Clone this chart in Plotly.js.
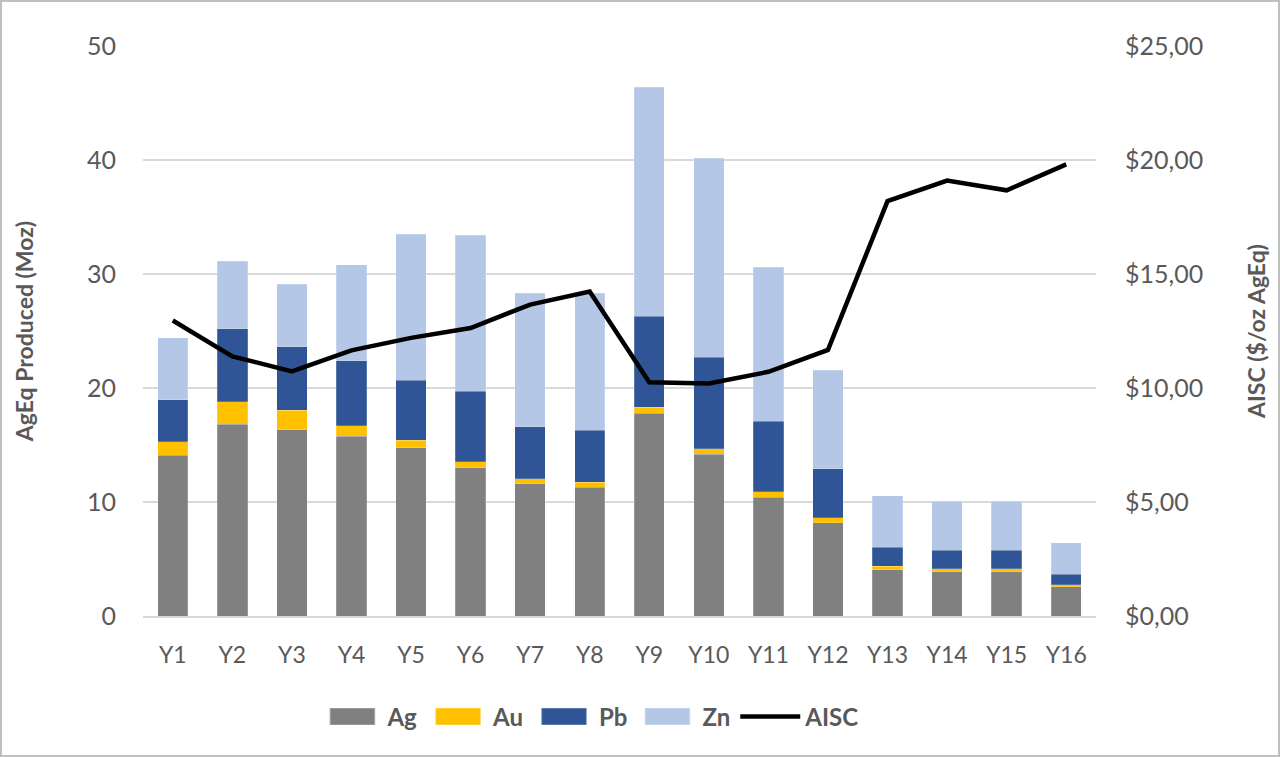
<!DOCTYPE html>
<html>
<head>
<meta charset="utf-8">
<script src="https://cdn.plot.ly/plotly-3.0.1.min.js"></script>
<style>
  html, body { margin: 0; padding: 0; background: #fff; }
  #wrap { position: relative; width: 1280px; height: 757px; }
  #chart { width: 1280px; height: 757px; }
  #frame { position: absolute; left: 0; top: 0; width: 1276px; height: 753px;
           border: 2px solid #bfbfbf; pointer-events: none; }
</style>
</head>
<body>
<div id="wrap">
  <div id="chart"></div>
  <div id="frame"></div>
</div>
<script>
// Years of the mine plan
const years = ["Y1", "Y2", "Y3", "Y4", "Y5", "Y6", "Y7", "Y8",
               "Y9", "Y10", "Y11", "Y12", "Y13", "Y14", "Y15", "Y16"];

// AgEq produced per metal (Moz)
const ag = [14.1, 16.8, 16.35, 15.75, 14.75, 13.0, 11.6, 11.3,
            17.8, 14.2, 10.4, 8.2, 4.06, 3.9, 3.9, 2.57];
const au = [1.2, 2.0, 1.7, 0.95, 0.65, 0.55, 0.45, 0.45,
            0.5, 0.47, 0.5, 0.4, 0.29, 0.26, 0.26, 0.16];
const pb = [3.65, 6.4, 5.55, 5.7, 5.3, 6.15, 4.55, 4.55,
            8.0, 8.03, 6.2, 4.3, 1.68, 1.59, 1.59, 0.92];
const zn = [5.45, 5.9, 5.5, 8.4, 12.8, 13.7, 11.7, 12.0,
            20.1, 17.45, 13.5, 8.66, 4.54, 4.31, 4.31, 2.79];

// All-in sustaining cost ($/oz AgEq)
const aisc = [12.96, 11.39, 10.73, 11.65, 12.2, 12.63, 13.66, 14.23,
              10.25, 10.2, 10.71, 11.67, 18.2, 19.1, 18.67, 19.81];

const textGray = "#595959";
const font = "Lato, 'Open Sans', sans-serif";

function barTrace(name, values, color) {
  return {
    x: years,
    y: values,
    type: "bar",
    name: name,
    marker: { color: color, line: { color: "rgba(255,255,255,0.4)", width: 0.5 } },
  };
}

const traces = [
  barTrace("Ag", ag, "#808080"),
  barTrace("Au", au, "#FFC000"),
  barTrace("Pb", pb, "#2F5597"),
  barTrace("Zn", zn, "#B4C7E7"),
  {
    x: years,
    y: aisc,
    type: "scatter",
    mode: "lines",
    name: "AISC",
    yaxis: "y2",
    line: { color: "#000000", width: 4.5 },
  },
];

const layout = {
  width: 1280,
  height: 757,
  barmode: "stack",
  bargap: 0.49,
  separators: ",.",
  font: { family: font, size: 24, color: textGray },
  margin: { l: 143, r: 184, t: 46, b: 141 },
  xaxis: {
    showgrid: false,
    showline: true,
    linecolor: "#d9d9d9",
    linewidth: 1.5,
    ticks: "",
    tickfont: { size: 23, color: textGray },
    ticklabelstandoff: 18,
  },
  yaxis: {
    range: [0, 50],
    dtick: 10,
    showgrid: true,
    gridcolor: "#d9d9d9",
    gridwidth: 1.5,
    zeroline: false,
    ticks: "",
    ticklabelstandoff: 26,
    tickfont: { size: 25, color: textGray },
    title: {
      text: "<b>AgEq Produced (Moz)</b>",
      font: { size: 23, color: textGray },
      standoff: 46,
    },
  },
  yaxis2: {
    overlaying: "y",
    side: "right",
    range: [0, 25],
    dtick: 5,
    tickprefix: "$",
    tickformat: ".2f",
    showgrid: false,
    zeroline: false,
    ticks: "",
    ticklabelstandoff: 28,
    tickfont: { size: 25, color: textGray },
    title: {
      text: "<b>AISC ($/oz AgEq)</b>",
      font: { size: 23, color: textGray },
      standoff: 46,
    },
  },
  showlegend: true,
  legend: {
    orientation: "h",
    x: 0.47,
    xanchor: "center",
    y: -0.177,
    yanchor: "middle",
    font: { size: 24, color: textGray, weight: "bold" },
    traceorder: "normal",
    itemwidth: 60,
  },
  plot_bgcolor: "#ffffff",
  paper_bgcolor: "#ffffff",
};

Plotly.newPlot("chart", traces, layout, { displayModeBar: false, staticPlot: true }).then((gd) => {
  // stretch the bar swatches into wide rectangles like the original legend
  gd.querySelectorAll(".legend .traces").forEach((item, i) => {
    if (i > 3) return;
    item.querySelectorAll(".legendpoints path").forEach((p) => {
      const t = p.getAttribute("transform") || "";
      p.setAttribute("transform", t + " scale(3.8,1.4)");
    });
  });
});
</script>
</body>
</html>
